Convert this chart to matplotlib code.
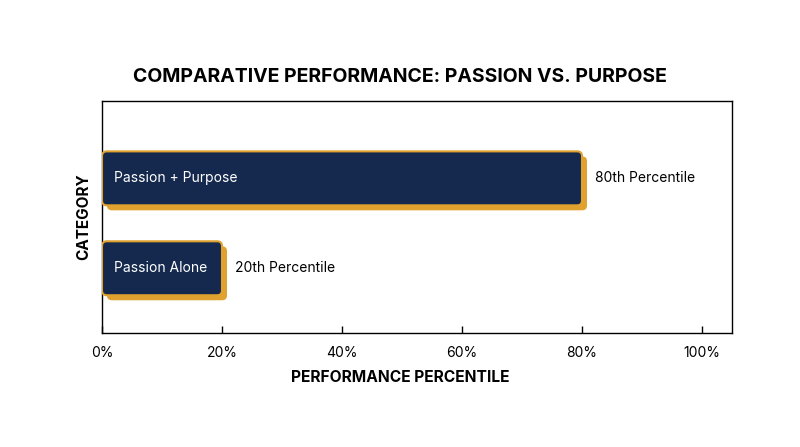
import matplotlib
matplotlib.use("Agg")
import matplotlib.pyplot as plt
from matplotlib.patches import FancyBboxPatch
from matplotlib.ticker import FuncFormatter

plt.rcParams['font.family'] = ['Inter', 'DejaVu Sans']

categories = ["Passion Alone", "Passion + Purpose"]
values = [20, 80]
value_labels = ["20th Percentile", "80th Percentile"]
x_ticks = [0, 20, 40, 60, 80, 100]

NAVY = "#14294d"
GOLD = "#e0a12e"

fig = plt.figure(figsize=(8, 4.47), dpi=100)
ax = fig.add_axes([0.1275, 0.255, 0.7875, 0.519])
ax.set_xlim(0, 105)
ax.set_ylim(-0.72, 1.86)

bars = ax.barh(range(len(categories)), values, height=0.6, color="none")
xpu = 630 / 105.0
ypu = 232 / 2.58
aspect = xpu / ypu
for b, cat, lab in zip(bars, categories, value_labels):
    x0, y0, w, h = b.get_x(), b.get_y(), b.get_width(), b.get_height()
    dx = 5 / xpu
    dy = 5 / ypu
    shadow = FancyBboxPatch((x0 + dx, y0 - dy), w, h,
                            boxstyle="round,pad=0,rounding_size=0.8",
                            mutation_aspect=aspect, facecolor=GOLD,
                            edgecolor="none", zorder=2)
    ax.add_patch(shadow)
    main = FancyBboxPatch((x0, y0), w, h,
                          boxstyle="round,pad=0,rounding_size=0.8",
                          mutation_aspect=aspect, facecolor=NAVY,
                          edgecolor=GOLD, linewidth=1.5, zorder=3)
    ax.add_patch(main)
    ax.text(x0 + 2, y0 + h / 2, cat, color="white", fontsize=10,
            va="center", ha="left", zorder=4)
    ax.text(x0 + w + 2.2, y0 + h / 2, lab, color="black", fontsize=10,
            va="center", ha="left", zorder=4)

ax.set_yticks([])
ax.set_xticks(x_ticks)
ax.xaxis.set_major_formatter(FuncFormatter(lambda v, p: f"{int(v)}%"))
ax.tick_params(axis="x", direction="in", length=5, width=1, labelsize=10, pad=9)
for s in ax.spines.values():
    s.set_linewidth(1)
    s.set_color("black")

ax.set_ylabel("CATEGORY", fontsize=11, fontweight="bold", labelpad=8)
fig.text(0.5, 1 - 378 / 447, "PERFORMANCE PERCENTILE", fontsize=11.2,
         fontweight="bold", ha="center", va="center")
fig.text(0.5, 1 - 77 / 447, "COMPARATIVE PERFORMANCE: PASSION VS. PURPOSE",
         fontsize=14, fontweight="bold", ha="center", va="center")

fig.savefig("out.png", dpi=100)
